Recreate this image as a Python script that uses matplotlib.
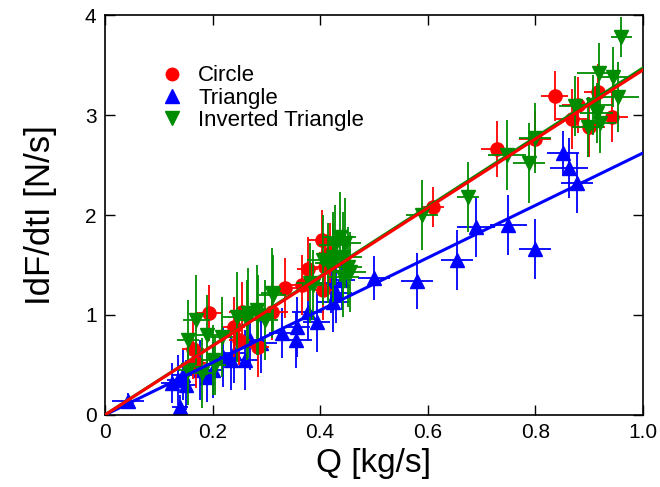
import matplotlib
matplotlib.use("Agg")
import matplotlib.pyplot as plt
from matplotlib.lines import Line2D

plt.rcParams['font.family'] = ['Liberation Sans', 'DejaVu Sans']

# circle (red)
circ_q = [0.164, 0.17, 0.193, 0.24, 0.25, 0.255, 0.285, 0.31, 0.335, 0.366, 0.377, 0.403,
          0.405, 0.41, 0.418, 0.61, 0.729, 0.80, 0.836, 0.868, 0.88, 0.90, 0.916, 0.942]
circ_f = [0.66, 0.52, 1.02, 0.88, 0.75, 1.03, 0.68, 1.03, 1.27, 1.30, 1.46, 1.75,
          1.25, 1.48, 1.62, 2.08, 2.66, 2.76, 3.19, 2.96, 3.10, 2.88, 3.23, 2.98]
circ_dq = [0.02, 0.02, 0.025, 0.02, 0.02, 0.025, 0.02, 0.03, 0.025, 0.02, 0.02, 0.025,
           0.02, 0.025, 0.02, 0.02, 0.03, 0.03, 0.025, 0.03, 0.03, 0.03, 0.025, 0.03]
circ_df = [0.3, 0.25, 0.28, 0.3, 0.25, 0.3, 0.3, 0.28, 0.3, 0.3, 0.32, 0.3,
           0.3, 0.3, 0.3, 0.2, 0.28, 0.28, 0.25, 0.3, 0.28, 0.3, 0.28, 0.25]

# triangle (blue)
tri_q = [0.043, 0.125, 0.135, 0.14, 0.145, 0.15, 0.177, 0.19, 0.20, 0.22, 0.235, 0.24,
         0.26, 0.27, 0.29, 0.33, 0.355, 0.357, 0.378, 0.394, 0.424, 0.42, 0.43, 0.44,
         0.50, 0.58, 0.655, 0.69, 0.75, 0.80, 0.851, 0.863, 0.877]
tri_f = [0.14, 0.32, 0.35, 0.08, 0.40, 0.30, 0.45, 0.38, 0.45, 0.58, 0.55, 0.62,
         0.55, 0.75, 0.72, 0.82, 0.75, 0.88, 1.03, 0.93, 1.13, 1.32, 1.22, 1.35,
         1.37, 1.34, 1.55, 1.88, 1.90, 1.66, 2.62, 2.47, 2.32]
tri_dq = [0.03, 0.02, 0.02, 0.015, 0.02, 0.02, 0.025, 0.02, 0.02, 0.02, 0.025, 0.02,
          0.025, 0.02, 0.03, 0.025, 0.03, 0.025, 0.03, 0.025, 0.03, 0.025, 0.03, 0.025,
          0.03, 0.03, 0.03, 0.035, 0.035, 0.03, 0.03, 0.035, 0.03]
tri_df = [0.08, 0.2, 0.25, 0.12, 0.25, 0.25, 0.3, 0.25, 0.28, 0.3, 0.3, 0.3,
          0.3, 0.3, 0.3, 0.25, 0.28, 0.3, 0.28, 0.3, 0.3, 0.3, 0.3, 0.3,
          0.22, 0.28, 0.3, 0.3, 0.3, 0.3, 0.22, 0.3, 0.3]

# inverted triangle (green)
inv_q = [0.154, 0.155, 0.17, 0.18, 0.19, 0.20, 0.205, 0.218, 0.245, 0.264, 0.266, 0.282,
         0.285, 0.297, 0.31, 0.312, 0.381, 0.387, 0.405, 0.415, 0.424, 0.424, 0.428, 0.437,
         0.442, 0.442, 0.446, 0.452, 0.455, 0.59, 0.675, 0.747, 0.788, 0.80, 0.874, 0.898,
         0.907, 0.914, 0.918, 0.92, 0.944, 0.953, 0.96]
inv_f = [0.75, 0.45, 0.95, 0.42, 0.80, 0.55, 0.50, 0.78, 0.98, 0.95, 1.02, 1.05,
         1.00, 0.95, 1.22, 1.20, 1.32, 1.30, 1.55, 1.52, 1.52, 1.58, 1.70, 1.78,
         1.58, 1.38, 1.72, 1.48, 1.43, 2.00, 2.18, 2.60, 2.52, 2.77, 3.09, 2.88,
         3.10, 3.02, 3.42, 2.92, 3.38, 3.18, 3.78]
inv_dq = [0.02, 0.02, 0.025, 0.02, 0.02, 0.02, 0.02, 0.02, 0.025, 0.02, 0.025, 0.02,
          0.02, 0.025, 0.02, 0.025, 0.025, 0.02, 0.03, 0.025, 0.03, 0.025, 0.03, 0.03,
          0.035, 0.03, 0.03, 0.025, 0.03, 0.03, 0.02, 0.035, 0.03, 0.03, 0.03, 0.03,
          0.035, 0.03, 0.04, 0.03, 0.03, 0.04, 0.02]
inv_df = [0.4, 0.35, 0.45, 0.35, 0.4, 0.35, 0.3, 0.4, 0.45, 0.4, 0.45, 0.45,
          0.4, 0.4, 0.45, 0.4, 0.4, 0.35, 0.45, 0.4, 0.4, 0.45, 0.4, 0.45,
          0.45, 0.4, 0.45, 0.4, 0.4, 0.35, 0.35, 0.35, 0.4, 0.35, 0.3, 0.3,
          0.3, 0.3, 0.3, 0.3, 0.3, 0.35, 0.2]

# fitted slopes
fit_q = [0.0, 1.0]
slope_circ = 3.45
slope_inv = 3.47
slope_tri = 2.62

fig = plt.figure(figsize=(6.6, 4.87), dpi=100)
ax = fig.add_axes([0.159, 0.148, 0.815, 0.821])

ax.errorbar(tri_q, tri_f, xerr=tri_dq, yerr=tri_df, fmt='^', color='#0000ff',
            ms=10, elinewidth=1.3, capsize=0, zorder=2)
ax.errorbar(circ_q, circ_f, xerr=circ_dq, yerr=circ_df, fmt='o', color='#ff0000',
            ms=9.5, elinewidth=1.3, capsize=0, zorder=3)
ax.errorbar(inv_q, inv_f, xerr=inv_dq, yerr=inv_df, fmt='v', color='#008c00',
            ms=10, elinewidth=1.3, capsize=0, zorder=4)

ax.plot(fit_q, [q * slope_tri for q in fit_q], color='#0000ff', lw=2.2, zorder=5)
ax.plot(fit_q, [q * slope_inv for q in fit_q], color='#008c00', lw=2.2, zorder=5)
ax.plot(fit_q, [q * slope_circ for q in fit_q], color='#ff0000', lw=2.2, zorder=6)

ax.set_xlim(0, 1.0)
ax.set_ylim(0, 4)
ax.set_xticks([0, 0.2, 0.4, 0.6, 0.8, 1.0])
ax.set_xticklabels(['0', '0.2', '0.4', '0.6', '0.8', '1.0'])
ax.set_yticks([0, 1, 2, 3, 4])
ax.tick_params(direction='in', length=7, width=1, labelsize=15,
               top=True, right=True, pad=6)
for s in ax.spines.values():
    s.set_linewidth(1.2)

ax.set_xlabel('Q [kg/s]', fontsize=24, labelpad=4)
ax.set_ylabel('IdF/dtI [N/s]', fontsize=25, labelpad=20)

handles = [
    Line2D([], [], marker='o', color='#ff0000', ls='none', ms=9),
    Line2D([], [], marker='^', color='#0000ff', ls='none', ms=9.5),
    Line2D([], [], marker='v', color='#008c00', ls='none', ms=9.5),
]
ax.legend(handles, ['Circle', 'Triangle', 'Inverted Triangle'], loc='upper left',
          bbox_to_anchor=(0.104, 0.874), frameon=False, fontsize=16,
          borderpad=0, borderaxespad=0, handletextpad=0.68,
          labelspacing=0.06, handlelength=1.0)

fig.savefig('out.png', dpi=100)
